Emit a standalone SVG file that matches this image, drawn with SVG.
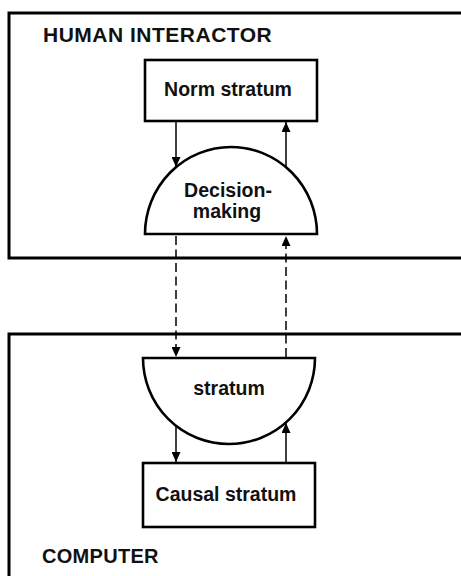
<svg xmlns="http://www.w3.org/2000/svg" width="461" height="576" viewBox="0 0 461 576">
  <style>
    .frame { fill: none; stroke: #000; stroke-width: 3; }
    .node { fill: #fff; stroke: #000; stroke-width: 2.6; }
    .label { font-family: "Liberation Sans", Arial, sans-serif; font-weight: bold; font-size: 19.5px; fill: #111; }
    .title { font-family: "Liberation Sans", Arial, sans-serif; font-weight: bold; fill: #111; }
    .link { fill: none; stroke: #000; stroke-width: 1.5; }
    .dash { stroke-dasharray: 9 4.5; }
  </style>
  <defs>
    <marker id="head" markerUnits="userSpaceOnUse" markerWidth="10" markerHeight="9" refX="10" refY="4.5" orient="auto" viewBox="0 0 10 9">
      <path d="M0,0 L10,4.5 L0,9 Z" fill="#000"/>
    </marker>
  </defs>

  <!-- outer frames, both running off the right edge -->
  <g id="human-interactor">
    <path class="frame" d="M470,13 H9 V258 H470"/>
    <text class="title" x="43" y="42" font-size="21" letter-spacing="0.5">HUMAN INTERACTOR</text>
  </g>
  <g id="computer">
    <path class="frame" d="M470,334 H9 V590"/>
    <text class="title" x="42" y="563" font-size="20" letter-spacing="0.3">COMPUTER</text>
  </g>

  <!-- connectors -->
  <g id="connectors">
    <line class="link" x1="176" y1="121" x2="176" y2="167" marker-end="url(#head)"/>
    <line class="link" x1="286" y1="167" x2="286" y2="122" marker-end="url(#head)"/>
    <line class="link dash" x1="176" y1="236" x2="176" y2="357" marker-end="url(#head)"/>
    <line class="link dash" x1="286" y1="357" x2="286" y2="236" marker-end="url(#head)"/>
    <line class="link" x1="176" y1="426" x2="176" y2="462" marker-end="url(#head)"/>
    <line class="link" x1="286" y1="462" x2="286" y2="423" marker-end="url(#head)"/>
  </g>

  <g id="norm-stratum">
    <rect class="node" x="145" y="60" width="172" height="61"/>
    <text class="label" x="228" y="96" font-size="20" text-anchor="middle">Norm stratum</text>
  </g>

  <g id="decision-making">
    <path class="node" d="M145,234 A86,87 0 0 1 317,234 Z"/>
    <text class="label" x="228" y="197" font-size="19" text-anchor="middle">Decision-</text>
    <text class="label" x="227" y="218" font-size="19" text-anchor="middle">making</text>
  </g>

  <g id="stratum">
    <path class="node" d="M143,358 H315 A86,86 0 0 1 143,358 Z"/>
    <text class="label" x="229" y="395" font-size="19" text-anchor="middle">stratum</text>
  </g>

  <g id="causal-stratum">
    <rect class="node" x="143" y="463" width="172" height="64"/>
    <text class="label" x="226" y="501" font-size="19" text-anchor="middle">Causal stratum</text>
  </g>
</svg>
